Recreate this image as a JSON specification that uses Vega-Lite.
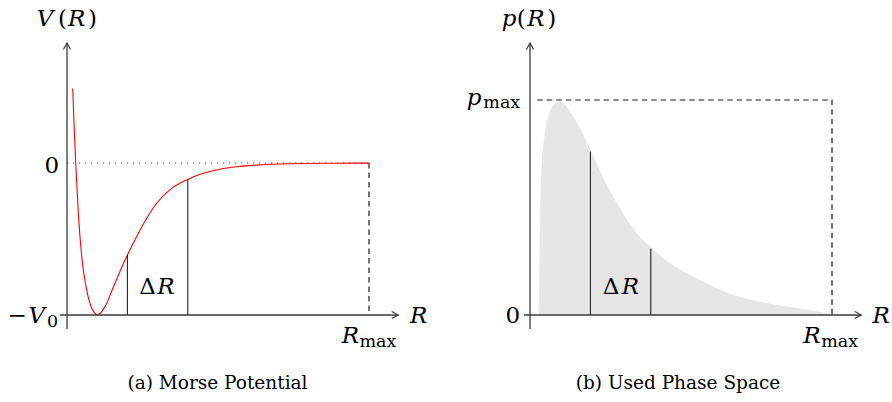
{
  "$schema": "https://vega.github.io/schema/vega-lite/v6.json",
  "padding": 0,
  "spacing": 0,
  "bounds": "flush",
  "autosize": {"type": "pad"},
  "background": "white",
  "config": {"view": {"stroke": null}, "text": {"font": "DejaVu Serif", "color": "#000000", "align": "left", "baseline": "alphabetic"}},
  "datasets": {
    "morse": [
      {"x": 0.189, "y": 0.491}, {"x": 0.238, "y": 0.236}, {"x": 0.288, "y": -0.002},
      {"x": 0.374, "y": -0.327}, {"x": 0.487, "y": -0.616}, {"x": 0.652, "y": -0.836},
      {"x": 0.818, "y": -0.954}, {"x": 0.911, "y": -0.985}, {"x": 0.993, "y": -1.0},
      {"x": 1.093, "y": -0.99}, {"x": 1.258, "y": -0.945}, {"x": 1.533, "y": -0.818},
      {"x": 1.811, "y": -0.687}, {"x": 2.0, "y": -0.605}, {"x": 2.308, "y": -0.483},
      {"x": 2.639, "y": -0.364}, {"x": 2.97, "y": -0.265}, {"x": 3.411, "y": -0.175},
      {"x": 4.0, "y": -0.108}, {"x": 4.513, "y": -0.068}, {"x": 5.066, "y": -0.041},
      {"x": 5.619, "y": -0.025}, {"x": 6.281, "y": -0.014}, {"x": 7.0, "y": -0.007},
      {"x": 8.0, "y": -0.003}, {"x": 9.0, "y": -0.0012}, {"x": 10.0, "y": -0.0005}
    ],
    "phase": [
      {"x": 0.298, "y": 0.0}, {"x": 0.305, "y": 0.116}, {"x": 0.321, "y": 0.349},
      {"x": 0.354, "y": 0.581}, {"x": 0.397, "y": 0.721}, {"x": 0.464, "y": 0.814},
      {"x": 0.606, "y": 0.922}, {"x": 0.772, "y": 0.977}, {"x": 0.97, "y": 0.993},
      {"x": 1.126, "y": 0.984}, {"x": 1.325, "y": 0.944}, {"x": 1.656, "y": 0.87},
      {"x": 1.987, "y": 0.772}, {"x": 2.318, "y": 0.67}, {"x": 2.649, "y": 0.577},
      {"x": 2.98, "y": 0.498}, {"x": 3.377, "y": 0.409}, {"x": 3.642, "y": 0.363},
      {"x": 3.974, "y": 0.319}, {"x": 4.526, "y": 0.251}, {"x": 5.189, "y": 0.194},
      {"x": 5.96, "y": 0.14}, {"x": 6.732, "y": 0.093}, {"x": 7.616, "y": 0.062},
      {"x": 8.5, "y": 0.039}, {"x": 9.381, "y": 0.02}, {"x": 10.0, "y": 0.004}
    ],
    "left_axes": [
      {"x": 0, "y": -1.092, "x2": 0, "y2": 0.789},
      {"x": -0.232, "y": -1, "x2": 10.97, "y2": -1}
    ],
    "left_markers": [
      {"x": 2, "y": -1, "x2": 2, "y2": -0.605},
      {"x": 4, "y": -1, "x2": 4, "y2": -0.108}
    ],
    "left_dotted": [{"x": 0, "y": 0, "x2": 10, "y2": 0}],
    "left_dashed": [{"x": 10, "y": 0, "x2": 10, "y2": -1}],
    "left_up": [{"x": 0, "y": 0.789}],
    "left_right": [{"x": 10.97, "y": -1}],
    "left_italic": [
      {"x": -1.003, "y": 0.901, "t": "V"},
      {"x": 0.033, "y": 0.901, "t": "R"},
      {"x": -1.275, "y": -1.0526, "t": "V"},
      {"x": 11.358, "y": -1.0526, "t": "R"},
      {"x": 9.096, "y": -1.184, "t": "R"},
      {"x": 2.99, "y": -0.862, "t": "R"}
    ],
    "left_roman": [
      {"x": -0.298, "y": 0.901, "t": "("},
      {"x": 0.695, "y": 0.901, "t": ")"},
      {"x": -0.745, "y": -0.068, "t": "0"},
      {"x": -1.97, "y": -1.0526, "t": "−"},
      {"x": 2.394, "y": -0.862, "t": "Δ"}
    ],
    "left_sub": [
      {"x": -0.662, "y": -1.079, "t": "0"},
      {"x": 9.685, "y": -1.2105, "t": "max"}
    ],
    "left_caption": [{"x": 4.983, "y": -1.489, "t": "(a)  Morse Potential"}],
    "right_axes": [
      {"x": 0, "y": -0.0651, "x2": 0, "y2": 1.265},
      {"x": -0.199, "y": 0, "x2": 10.97, "y2": 0}
    ],
    "right_markers": [
      {"x": 2, "y": 0, "x2": 2, "y2": 0.76},
      {"x": 4, "y": 0, "x2": 4, "y2": 0.309}
    ],
    "right_dashed": [
      {"x": 0.24, "y": 1, "i": 0},
      {"x": 10, "y": 1, "i": 1},
      {"x": 10, "y": 0, "i": 2}
    ],
    "right_up": [{"x": 0, "y": 1.265}],
    "right_right": [{"x": 10.97, "y": 0}],
    "right_italic": [
      {"x": -0.937, "y": 1.344, "t": "p"},
      {"x": -0.089, "y": 1.344, "t": "R"},
      {"x": -2.096, "y": 0.977, "t": "p"},
      {"x": 11.341, "y": -0.0386, "t": "R"},
      {"x": 9.05, "y": -0.13, "t": "R"},
      {"x": 3.036, "y": 0.0977, "t": "R"}
    ],
    "right_roman": [
      {"x": -0.44, "y": 1.344, "t": "("},
      {"x": 0.573, "y": 1.344, "t": ")"},
      {"x": -0.811, "y": -0.0386, "t": "0"},
      {"x": 2.407, "y": 0.0977, "t": "Δ"}
    ],
    "right_sub": [
      {"x": -1.546, "y": 0.963, "t": "max"},
      {"x": 9.64, "y": -0.149, "t": "max"}
    ],
    "right_caption": [{"x": 4.901, "y": -0.3456, "t": "(b)  Used Phase Space"}]
  },
  "hconcat": [
    {
      "width": 463,
      "height": 402,
      "encoding": {
        "x": {"field": "x", "type": "quantitative", "scale": {"domain": [-2.21854, 13.11258], "nice": false, "zero": false}, "axis": null},
        "y": {"field": "y", "type": "quantitative", "scale": {"domain": [-1.57237, 1.07237], "nice": false, "zero": false}, "axis": null}
      },
      "layer": [
        {
          "data": {"name": "left_dotted"},
          "mark": {"type": "rule", "color": "#444444", "strokeWidth": 1.1, "strokeDash": [1.2, 4.8]},
          "encoding": {"x2": {"field": "x2"}, "y2": {"field": "y2"}}
        },
        {
          "data": {"name": "left_dashed"},
          "mark": {"type": "rule", "color": "#1a1a1a", "strokeWidth": 1.2, "strokeDash": [5.5, 4]},
          "encoding": {"x2": {"field": "x2"}, "y2": {"field": "y2"}}
        },
        {
          "data": {"name": "morse"},
          "mark": {"type": "line", "color": "#ff0000", "strokeWidth": 1.1, "interpolate": "monotone"},
          "encoding": {}
        },
        {
          "data": {"name": "left_markers"},
          "mark": {"type": "rule", "color": "#111111", "strokeWidth": 1},
          "encoding": {"x2": {"field": "x2"}, "y2": {"field": "y2"}}
        },
        {
          "data": {"name": "left_axes"},
          "mark": {"type": "rule", "color": "#3a3a3a", "strokeWidth": 1.3},
          "encoding": {"x2": {"field": "x2"}, "y2": {"field": "y2"}}
        },
        {
          "data": {"name": "left_up"},
          "mark": {"type": "point", "shape": "M -0.7 1.3 Q -0.2 0.35 0 0 Q 0.2 0.35 0.7 1.3", "filled": false, "size": 100, "stroke": "#3a3a3a", "strokeWidth": 1.2, "opacity": 1},
          "encoding": {}
        },
        {
          "data": {"name": "left_right"},
          "mark": {"type": "point", "shape": "M -1.3 -0.7 Q -0.35 -0.2 0 0 Q -0.35 0.2 -1.3 0.7", "filled": false, "size": 100, "stroke": "#3a3a3a", "strokeWidth": 1.2, "opacity": 1},
          "encoding": {}
        },
        {
          "data": {"name": "left_italic"},
          "mark": {"type": "text", "fontStyle": "italic", "fontSize": 23},
          "encoding": {"text": {"field": "t"}}
        },
        {
          "data": {"name": "left_roman"},
          "mark": {"type": "text", "fontSize": 23},
          "encoding": {"text": {"field": "t"}}
        },
        {
          "data": {"name": "left_sub"},
          "mark": {"type": "text", "fontSize": 17.5},
          "encoding": {"text": {"field": "t"}}
        },
        {
          "data": {"name": "left_caption"},
          "mark": {"type": "text", "fontSize": 18.5, "align": "center"},
          "encoding": {"text": {"field": "t"}}
        }
      ]
    },
    {
      "width": 429,
      "height": 402,
      "encoding": {
        "x": {"field": "x", "type": "quantitative", "scale": {"domain": [-2.21854, 11.98675], "nice": false, "zero": false}, "axis": null},
        "y": {"field": "y", "type": "quantitative", "scale": {"domain": [-0.40465, 1.46512], "nice": false, "zero": false}, "axis": null}
      },
      "layer": [
        {
          "data": {"name": "phase"},
          "mark": {"type": "area", "color": "#e6e6e6", "interpolate": "monotone", "opacity": 1},
          "encoding": {"y2": {"datum": 0}}
        },
        {
          "data": {"name": "right_dashed"},
          "mark": {"type": "line", "color": "#1a1a1a", "strokeWidth": 1.2, "strokeDash": [5.5, 4]},
          "encoding": {"order": {"field": "i"}}
        },
        {
          "data": {"name": "right_markers"},
          "mark": {"type": "rule", "color": "#111111", "strokeWidth": 1},
          "encoding": {"x2": {"field": "x2"}, "y2": {"field": "y2"}}
        },
        {
          "data": {"name": "right_axes"},
          "mark": {"type": "rule", "color": "#3a3a3a", "strokeWidth": 1.3},
          "encoding": {"x2": {"field": "x2"}, "y2": {"field": "y2"}}
        },
        {
          "data": {"name": "right_up"},
          "mark": {"type": "point", "shape": "M -0.7 1.3 Q -0.2 0.35 0 0 Q 0.2 0.35 0.7 1.3", "filled": false, "size": 100, "stroke": "#3a3a3a", "strokeWidth": 1.2, "opacity": 1},
          "encoding": {}
        },
        {
          "data": {"name": "right_right"},
          "mark": {"type": "point", "shape": "M -1.3 -0.7 Q -0.35 -0.2 0 0 Q -0.35 0.2 -1.3 0.7", "filled": false, "size": 100, "stroke": "#3a3a3a", "strokeWidth": 1.2, "opacity": 1},
          "encoding": {}
        },
        {
          "data": {"name": "right_italic"},
          "mark": {"type": "text", "fontStyle": "italic", "fontSize": 23},
          "encoding": {"text": {"field": "t"}}
        },
        {
          "data": {"name": "right_roman"},
          "mark": {"type": "text", "fontSize": 23},
          "encoding": {"text": {"field": "t"}}
        },
        {
          "data": {"name": "right_sub"},
          "mark": {"type": "text", "fontSize": 17.5},
          "encoding": {"text": {"field": "t"}}
        },
        {
          "data": {"name": "right_caption"},
          "mark": {"type": "text", "fontSize": 18.5, "align": "center"},
          "encoding": {"text": {"field": "t"}}
        }
      ]
    }
  ]
}
